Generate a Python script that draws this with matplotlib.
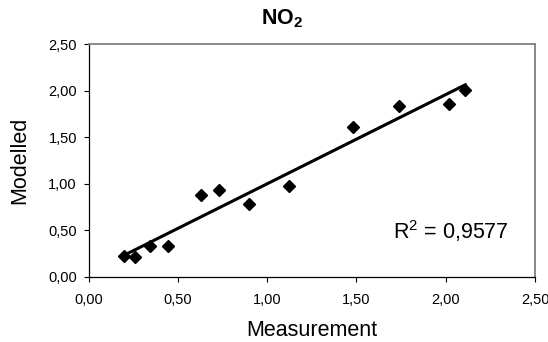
import numpy as np
import matplotlib
matplotlib.use('Agg')
import matplotlib.pyplot as plt
from matplotlib.ticker import FuncFormatter, MultipleLocator

# NO2: measured vs modelled
measurement = [0.20, 0.26, 0.345, 0.446, 0.63, 0.73, 0.896, 1.12, 1.48, 1.74, 2.02, 2.11]
modelled = [0.22, 0.21, 0.33, 0.33, 0.88, 0.93, 0.776, 0.97, 1.61, 1.83, 1.855, 2.005]
r2_label = 'R$^2$ = 0,9577'

plt.rcParams['font.family'] = ['Liberation Sans', 'DejaVu Sans']
plt.rcParams['mathtext.default'] = 'regular'

fig = plt.figure(figsize=(5.48, 3.42), dpi=100)
ax = fig.add_axes([0.1619, 0.1915, 0.8144, 0.6798])

ax.plot(measurement, modelled, linestyle='none', marker='D', ms=6.2,
        color='black', zorder=3)

# linear trendline over the range of the data
x = np.array(measurement)
k, b = np.polyfit(x, np.array(modelled), 1)
xs = np.array([x.min(), x.max()])
ax.plot(xs, k * xs + b, color='black', lw=2.2, zorder=2)

ax.text(0.9395, 0.195, r2_label, transform=ax.transAxes, fontsize=15.5,
        ha='right', va='center')

ax.set_xlim(0, 2.5)
ax.set_ylim(0, 2.5)
ax.xaxis.set_major_locator(MultipleLocator(0.5))
ax.yaxis.set_major_locator(MultipleLocator(0.5))
fmt = FuncFormatter(lambda v, p: f'{v:.2f}'.replace('.', ','))
ax.xaxis.set_major_formatter(fmt)
ax.yaxis.set_major_formatter(fmt)
ax.tick_params(axis='x', direction='out', length=3.5, width=0.8, labelsize=10.5, pad=8.5)
ax.tick_params(axis='y', direction='out', length=3.5, width=0.8, labelsize=10.5, pad=5)

for s in ['left', 'bottom']:
    ax.spines[s].set_color('black')
    ax.spines[s].set_linewidth(0.9)
for s in ['top', 'right']:
    ax.spines[s].set_color('#808080')
    ax.spines[s].set_linewidth(1.3)

ax.set_xlabel('Measurement', fontsize=15.5, labelpad=9.5)
ax.set_ylabel('Modelled', fontsize=15.5, labelpad=13)
fig.text(0.515, 0.945, 'NO$_2$', fontsize=15.5, fontweight='bold',
         ha='center', va='center')

fig.savefig('out.png', dpi=100)
